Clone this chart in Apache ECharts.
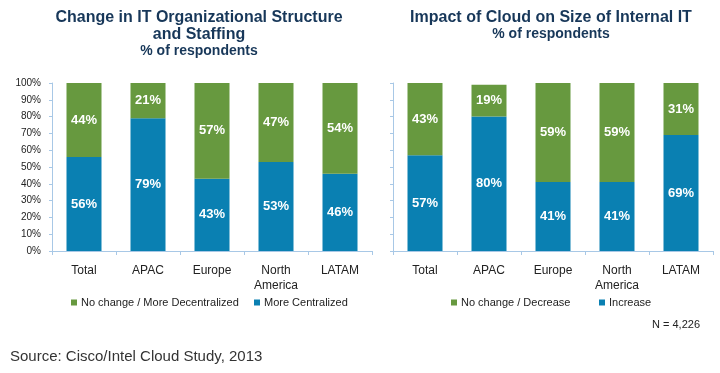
<!DOCTYPE html>
<html>
<head>
<meta charset="utf-8">
<script src="https://cdn.jsdelivr.net/npm/echarts@6/dist/echarts.min.js"></script>
<style>
html,body{margin:0;padding:0;background:#fff;}
#c{width:720px;height:373px;}
</style>
</head>
<body>
<div id="c"></div>
<script>
var categories = ['Total', 'APAC', 'Europe', 'North\nAmerica', 'LATAM'];
var yTicks = [0, 10, 20, 30, 40, 50, 60, 70, 80, 90, 100];
var leftCentralized = [56, 79, 43, 53, 46];
var leftDecentralized = [44, 21, 57, 47, 54];
var rightIncrease = [57, 80, 41, 41, 69];
var rightDecrease = [43, 19, 59, 59, 31];

var BLUE = '#0a80b2';
var GREEN = '#67993f';
var AXIS = '#a8c8e6';
var NARROW = "'Liberation Sans Narrow', 'Arial Narrow', 'Liberation Sans', Arial, sans-serif";
var SANS = "'Liberation Sans', Arial, sans-serif";
var TITLE = '#173759';

function yAxis(idx, showLabels) {
  return {
    type: 'value', gridIndex: idx, min: yTicks[0], max: yTicks[yTicks.length - 1], interval: yTicks[1] - yTicks[0],
    axisLine: {show: true, lineStyle: {color: AXIS, width: 1}},
    axisTick: {show: true, length: 3, lineStyle: {color: AXIS}},
    splitLine: {show: false},
    axisLabel: {show: showLabels, formatter: '{value}%', fontFamily: NARROW, fontSize: 10, color: '#222', margin: 11}
  };
}
function xAxis(idx) {
  return {
    type: 'category', gridIndex: idx, data: categories,
    axisLine: {show: true, lineStyle: {color: AXIS, width: 1}},
    axisTick: {show: true, length: 4, alignWithLabel: false, lineStyle: {color: AXIS}},
    axisLabel: {fontFamily: NARROW, fontSize: 12, color: '#222', margin: 12, lineHeight: 15, interval: 0}
  };
}
function bar(name, data, idx, color) {
  return {
    name: name, type: 'bar', stack: 's' + idx, xAxisIndex: idx, yAxisIndex: idx,
    data: data, barWidth: 35, itemStyle: {color: color},
    label: {show: true, position: 'inside', formatter: '{c}%', color: '#fff', fontFamily: NARROW, fontWeight: 'bold', fontSize: 13},
    emphasis: {disabled: true}
  };
}
function legend(name, left) {
  return {
    data: [name], left: left, top: 297, padding: 0, itemWidth: 6, itemHeight: 6, icon: 'rect', itemGap: 4,
    textStyle: {fontFamily: NARROW, fontSize: 11, color: '#222', padding: [0, 0, 0, -1]},
    selectedMode: false
  };
}

var chart = echarts.init(document.getElementById('c'), null, {renderer: 'canvas'});
chart.setOption({
  animation: false,
  backgroundColor: '#fff',
  title: [
    {text: 'Change in IT Organizational Structure\nand Staffing', left: 199, top: 9, padding: 0, textAlign: 'center',
     textStyle: {fontFamily: SANS, fontSize: 16, fontWeight: 'bold', color: TITLE, lineHeight: 17},
     subtext: '% of respondents', itemGap: 0,
     subtextStyle: {fontFamily: SANS, fontSize: 14, fontWeight: 'bold', color: TITLE, lineHeight: 17}},
    {text: 'Impact of Cloud on Size of Internal IT', left: 551, top: 9, padding: 0, textAlign: 'center',
     textStyle: {fontFamily: SANS, fontSize: 16, fontWeight: 'bold', color: TITLE, lineHeight: 17},
     subtext: '% of respondents', itemGap: 0,
     subtextStyle: {fontFamily: SANS, fontSize: 14, fontWeight: 'bold', color: TITLE, lineHeight: 17}},
    {text: 'N = 4,226', right: 20, top: 319, padding: 0,
     textStyle: {fontFamily: NARROW, fontSize: 11, fontWeight: 'normal', color: '#222'}},
    {text: 'Source: Cisco/Intel Cloud Study, 2013', left: 10, top: 349, padding: 0,
     textStyle: {fontFamily: SANS, fontSize: 15, fontWeight: 'normal', color: '#333'}}
  ],
  grid: [
    {left: 52, top: 83, width: 320, height: 168},
    {left: 393, top: 83, width: 320, height: 168}
  ],
  xAxis: [xAxis(0), xAxis(1)],
  yAxis: [yAxis(0, true), yAxis(1, false)],
  legend: [
    legend('No change / More Decentralized', 71),
    legend('More Centralized', 254),
    legend('No change / Decrease', 451),
    legend('Increase', 599)
  ],
  series: [
    bar('More Centralized', leftCentralized, 0, BLUE),
    bar('No change / More Decentralized', leftDecentralized, 0, GREEN),
    bar('Increase', rightIncrease, 1, BLUE),
    bar('No change / Decrease', rightDecrease, 1, GREEN)
  ]
});
</script>
</body>
</html>
